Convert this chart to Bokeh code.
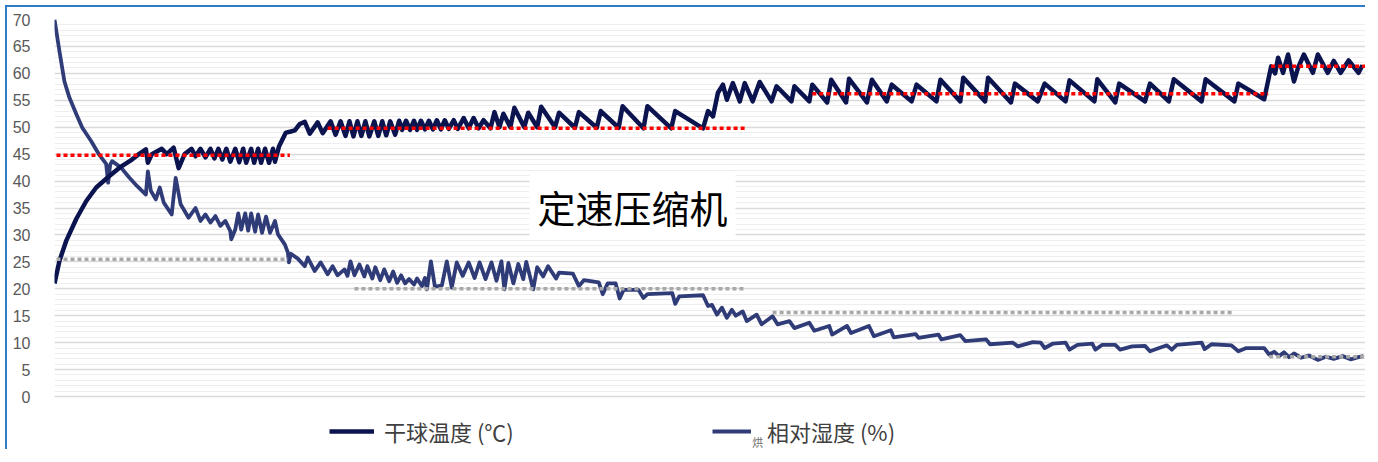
from bokeh.plotting import figure
from bokeh.models import Range1d, SingleIntervalTicker, Legend, LegendItem, Label
from bokeh.embed import file_html
from bokeh.resources import INLINE

# ---------------- data (time index) ----------------
temp_t = [0, 5, 12, 22, 32, 42, 55, 67, 78, 85, 92, 94, 98, 103, 108, 113, 120, 125, 131, 138,
          142, 147, 152, 157, 161, 165, 169, 173, 177, 182, 186, 190, 193, 198, 201, 205, 208, 212,
          216, 220, 222, 226, 233, 238, 242, 247, 252, 257, 265, 270, 278, 283, 288, 293, 297, 301,
          305, 309, 313, 317, 322, 326, 330, 334, 338, 343, 347, 350, 354, 358, 362, 365, 369, 373,
          377, 381, 385, 389, 393, 397, 402, 406, 412, 417, 422, 427, 432, 439, 443, 448, 452, 459,
          463, 473, 477, 486, 490, 504, 508, 524, 528, 546, 550, 568, 572, 593, 597, 621, 625, 653,
          658, 663, 668, 673, 677, 683, 690, 695, 703, 710, 722, 727, 742, 745, 760, 763, 778, 782,
          797, 800, 818, 823, 838, 843, 863, 868, 888, 892, 912, 915, 937, 940, 963, 967, 990, 997,
          1018, 1022, 1047, 1050, 1068, 1072, 1098, 1103, 1122, 1127, 1155, 1159, 1188, 1192, 1218,
          1225, 1229, 1232, 1237, 1242, 1248, 1252, 1258, 1267, 1272, 1282, 1288, 1295, 1303, 1313, 1317]
temp_v = [21.0, 25.2, 29.0, 33.0, 36.3, 38.8, 40.9, 42.7, 44.0, 45.0, 45.9, 43.4, 45.0, 45.5, 46.0,
          45.0, 46.2, 42.4, 45.0, 46.0, 44.6, 46.0, 44.4, 46.0, 44.2, 46.0, 44.0, 46.0, 43.6, 46.0,
          43.5, 46.0, 43.4, 46.0, 43.4, 46.0, 43.4, 46.0, 43.4, 46.0, 43.6, 46.4, 49.0, 49.2, 49.4,
          50.6, 51.0, 48.8, 50.9, 48.9, 51.1, 48.6, 51.1, 48.4, 51.1, 48.3, 51.1, 48.4, 51.1, 48.3,
          51.1, 48.4, 51.1, 48.5, 51.1, 48.6, 51.2, 49.5, 51.2, 49.5, 51.2, 49.5, 51.2, 49.6, 51.2,
          49.6, 51.3, 49.6, 51.3, 49.7, 51.3, 49.7, 51.7, 49.8, 51.7, 49.8, 51.3, 49.8, 52.8, 50.0,
          52.5, 50.0, 53.6, 50.0, 52.7, 50.0, 53.8, 50.0, 52.7, 49.9, 52.8, 49.9, 53.0, 49.9, 53.9,
          49.8, 53.9, 49.8, 53.0, 49.8, 53.0, 52.0, 56.4, 57.9, 55.1, 58.2, 54.8, 58.2, 54.8, 58.4,
          54.8, 57.6, 54.8, 57.6, 54.8, 57.9, 54.6, 58.8, 54.6, 59.0, 54.6, 58.8, 54.8, 57.9, 54.8,
          57.9, 54.8, 58.8, 54.8, 59.2, 54.8, 59.2, 54.6, 58.1, 54.8, 58.1, 54.8, 58.7, 54.8, 58.9,
          54.6, 58.1, 54.8, 58.1, 54.8, 58.9, 54.8, 58.9, 54.8, 58.1, 55.2, 61.3, 60.0, 62.9, 60.1,
          63.5, 58.5, 61.0, 63.5, 60.1, 63.5, 60.1, 62.3, 60.1, 62.4, 60.1, 61.5]

hum_t = [0, 5, 10, 15, 22, 28, 37, 45, 52, 54, 56, 58, 67, 75, 83, 92, 94, 97, 102, 106, 110, 118,
         122, 127, 135, 142, 147, 152, 157, 162, 167, 172, 177, 178, 182, 185, 188, 192, 195, 198,
         202, 205, 209, 213, 217, 222, 225, 232, 235, 236, 238, 245, 252, 255, 262, 268, 275, 280,
         285, 292, 295, 298, 302, 307, 312, 315, 320, 323, 328, 332, 337, 341, 345, 349, 353, 357,
         362, 365, 370, 373, 375, 379, 383, 390, 395, 400, 405, 411, 417, 423, 428, 434, 440, 445,
         450, 453, 457, 462, 467, 472, 475, 482, 486, 492, 497, 505, 508, 522, 528, 533, 548, 552,
         557, 565, 569, 573, 588, 593, 597, 622, 625, 629, 653, 658, 662, 667, 672, 677, 682, 686,
         693, 697, 707, 712, 723, 728, 740, 745, 760, 765, 780, 783, 798, 802, 820, 825, 842, 845,
         867, 870, 890, 893, 912, 917, 938, 942, 965, 970, 985, 993, 997, 1005, 1018, 1022, 1030,
         1045, 1048, 1055, 1068, 1073, 1085, 1098, 1103, 1115, 1120, 1125, 1130, 1155, 1158, 1165,
         1185, 1192, 1200, 1218, 1223, 1228, 1233, 1238, 1243, 1248, 1255, 1263, 1272, 1280, 1288,
         1297, 1305, 1313, 1318]
hum_v = [70.0, 64.1, 58.5, 55.5, 52.4, 49.9, 47.4, 44.9, 43.2, 39.7, 43.0, 43.7, 42.5, 40.7, 39.1,
         37.5, 41.8, 38.2, 36.6, 38.8, 36.0, 33.8, 40.6, 35.7, 33.2, 35.0, 32.6, 33.8, 32.3, 33.5,
         31.7, 32.6, 30.7, 29.2, 31.0, 34.0, 31.0, 34.0, 30.8, 34.0, 30.6, 33.8, 30.4, 33.4, 30.4,
         32.6, 30.1, 28.2, 26.7, 24.9, 26.5, 25.6, 24.2, 25.8, 23.3, 24.9, 22.7, 24.2, 22.5, 23.6,
         22.4, 25.1, 22.5, 24.5, 22.3, 24.2, 21.9, 24.0, 21.6, 23.6, 21.4, 23.2, 21.1, 22.5, 21.0,
         21.8, 20.8, 21.9, 20.5, 22.0, 19.9, 25.1, 20.4, 20.6, 25.1, 20.2, 24.9, 22.4, 24.9, 22.0,
         24.9, 21.8, 24.9, 21.5, 25.1, 19.9, 24.8, 21.0, 24.6, 21.8, 25.0, 19.9, 24.0, 22.3, 24.2,
         21.9, 23.0, 22.8, 20.5, 21.6, 21.2, 19.0, 21.0, 21.0, 18.2, 19.8, 19.8, 18.3, 19.0, 19.2,
         17.2, 18.6, 18.8, 16.8, 17.0, 15.2, 16.5, 14.6, 16.1, 15.0, 15.8, 14.0, 15.2, 13.4, 14.9,
         13.4, 14.0, 12.7, 13.7, 12.2, 13.1, 11.5, 13.1, 11.8, 13.1, 11.2, 12.3, 11.0, 11.6, 10.9,
         11.5, 10.6, 11.4, 10.3, 10.6, 9.7, 10.0, 9.3, 10.1, 10.0, 9.0, 9.8, 10.0, 8.7, 9.6, 9.8,
         8.7, 9.6, 9.6, 8.7, 9.3, 9.4, 8.4, 9.2, 9.5, 8.7, 9.6, 10.0, 8.8, 9.7, 9.5, 8.4, 9.0, 9.0,
         7.8, 8.3, 7.5, 8.2, 7.3, 8.0, 7.2, 7.6, 6.8, 7.4, 7.0, 7.5, 6.9, 7.3, 7.5]

# set-point levels (dotted guide lines)
temp_set_start = [2, 275, 763, 1225]
temp_set_end = [237, 697, 1222, 1320]
temp_set_level = [44.8, 49.8, 56.2, 61.3]
hum_set_start = [2, 302, 723, 1223]
hum_set_end = [235, 695, 1187, 1320]
hum_set_level = [25.5, 20.0, 15.6, 7.4]

y_ticks_interval = 5
series_names = ["干球温度 (℃)", "相对湿度 (%)"]
annotation_text = "定速压缩机"

# ---------------- figure ----------------
TEMP_C = "#0c1450"
HUM_C = "#303c78"

p = figure(width=1360, height=444, output_backend="svg", toolbar_location=None,
           x_range=Range1d(0, 1320), y_range=Range1d(-10.21, 70),
           min_border_left=47, min_border_right=2, min_border_top=12, min_border_bottom=0)
p.styles = {"border-left": "2px solid #2e7cc6", "border-top": "2px solid #2e7cc6",
            "margin-left": "5px", "margin-top": "5px"}
p.outline_line_color = None
p.background_fill_color = "white"
p.border_fill_color = "white"
p.xaxis.visible = False
p.xgrid.visible = False

ticker = SingleIntervalTicker(interval=y_ticks_interval, num_minor_ticks=5)
p.yaxis.ticker = ticker
p.yaxis.bounds = (0, 70)
p.yaxis.axis_line_color = None
p.yaxis.major_tick_line_color = None
p.yaxis.minor_tick_line_color = None
p.yaxis.major_label_text_font = "Liberation Sans"
p.yaxis.major_label_text_font_size = "16px"
p.yaxis.major_label_text_color = "#595959"
p.yaxis.major_label_standoff = 18

p.ygrid.ticker = ticker
p.ygrid.bounds = (0, 70)
p.ygrid.grid_line_color = "#d9d9d9"
p.ygrid.grid_line_width = 1.3
p.ygrid.minor_grid_line_color = "#eeeeee"
p.ygrid.minor_grid_line_width = 1

r_hum = p.line(hum_t, hum_v, line_color=HUM_C, line_width=3.8, line_join="round")
r_temp = p.line(temp_t, temp_v, line_color=TEMP_C, line_width=4.5, line_join="round")

p.segment(x0=hum_set_start, y0=hum_set_level, x1=hum_set_end, y1=hum_set_level,
          line_color="#a8a8a8", line_width=3.5, line_dash="4 3")
p.segment(x0=temp_set_start, y0=temp_set_level, x1=temp_set_end, y1=temp_set_level,
          line_color="#ff0000", line_width=3.5, line_dash="4 3")

lab = Label(x=582, y=35.3, text=annotation_text, text_align="center", text_baseline="middle",
            text_font="Noto Sans CJK SC", text_font_size="38px", text_color="black",
            background_fill_color="white", padding=(8, 4))
p.add_layout(lab)

leg1 = Legend(items=[LegendItem(label=series_names[0], renderers=[r_temp])],
              location=(275, 4), orientation="horizontal", glyph_width=45, glyph_height=20,
              label_standoff=10, padding=0, margin=0, border_line_color=None,
              background_fill_alpha=0, label_text_font="Noto Sans CJK SC",
              label_text_font_size="22px", label_text_color="#404040")
leg2 = Legend(items=[LegendItem(label=series_names[1], renderers=[r_hum])],
              location=(658, 4), orientation="horizontal", glyph_width=39, glyph_height=20,
              label_standoff=16, padding=0, margin=0, border_line_color=None,
              background_fill_alpha=0, label_text_font="Noto Sans CJK SC",
              label_text_font_size="22px", label_text_color="#404040")
p.add_layout(leg1)
p.add_layout(leg2)

tiny = Label(x=708, y=-8.4, text="烘", text_align="center", text_baseline="middle",
             text_font="Noto Sans CJK SC", text_font_size="11px", text_color="#6f6f6f")
p.add_layout(tiny)

open("out.html", "w").write(file_html(p, INLINE))
